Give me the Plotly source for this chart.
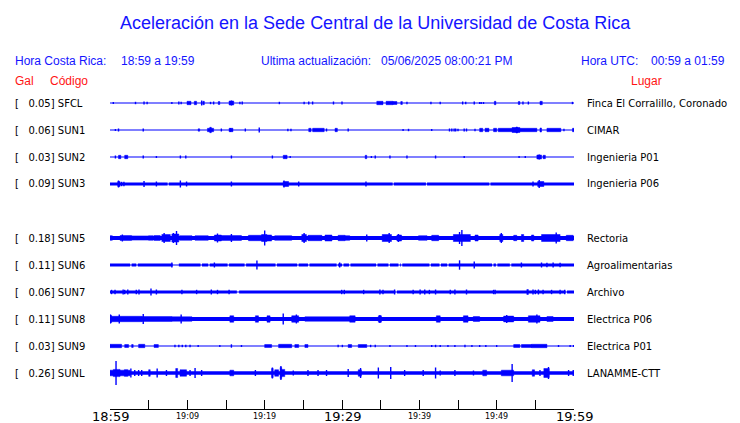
import plotly.graph_objects as go

# ---------------- data ----------------
codes = ["SFCL", "SUN1", "SUN2", "SUN3", "SUN5", "SUN6", "SUN7", "SUN8", "SUN9", "SUNL"]
gal = [0.05, 0.06, 0.03, 0.09, 0.18, 0.11, 0.06, 0.11, 0.03, 0.26]
places = ["Finca El Corralillo, Coronado", "CIMAR", "Ingenieria P01", "Ingenieria P06",
          "Rectoria", "Agroalimentarias", "Archivo", "Electrica P06", "Electrica P01", "LANAMME-CTT"]
# baseline half-amplitude of each trace (screen units)
base_amp = [0.6, 0.6, 0.6, 1.5, 2.0, 1.5, 1.5, 2.1, 0.6, 1.8]

tick_minutes = [0, 5, 10, 15, 20, 25, 30, 35, 40, 45, 50, 55, 60]
tick_labels = ["18:59", "", "19:09", "", "19:19", "", "19:29", "", "19:39", "", "19:49", "", "19:59"]
tick_major = [True, False, False, False, False, False, True, False, False, False, False, False, True]

# bursts: [start_min, end_min, half-amplitude]; spikes: [min, half-amplitude]; gaps: [start, end]
sfcl_bursts = [[9.96, 10.47, 1.7], [10.9, 11.2, 1.7], [12.0, 12.2, 1.7], [14.0, 14.2, 1.5], [15.4, 16.0, 2.0],
               [34.5, 35.3, 1.7], [35.7, 36.6, 1.7], [36.6, 37.1, 1.5], [37.6, 37.8, 1.5], [49.7, 49.9, 1.7],
               [52.8, 53.0, 1.5], [55.6, 55.9, 1.7]]
sfcl_spikes = [[0.43, 1], [3.3, 1.2], [4.4, 1.5], [4.8, 1.2], [8.0, 1], [8.9, 1.5], [9.2, 1.2], [11.85, 2.5],
               [13.0, 1.2], [13.4, 1.5], [15.7, 2.5], [16.8, 1.2], [17.1, 1.5], [21.9, 1.2], [25.1, 1.2],
               [25.7, 1.5], [26.2, 1.5], [28.9, 1.5], [30.0, 1.5], [38.4, 1.2], [41.5, 1.2], [42.7, 1.2],
               [45.6, 1.5], [46.0, 1.2], [47.1, 1.5], [47.8, 1], [48.0, 1], [48.3, 1], [53.4, 1.5],
               [54.1, 1.5], [59.8, 1.2]]
sfcl_gaps = []

sun1_bursts = [[11.4, 11.6, 1.2], [12.6, 13.4, 1.7], [12.9, 13.1, 2.7], [15.4, 15.9, 1.7], [25.7, 26.0, 1.7],
               [26.2, 27.7, 1.7], [29.1, 29.4, 1.7], [47.8, 48.2, 1.7], [48.5, 49.0, 1.7], [49.6, 50.0, 1.7],
               [50.2, 55.2, 1.7], [52.0, 53.0, 2.5], [52.5, 52.7, 3.0], [55.6, 55.8, 2.0], [56.5, 58.3, 1.7],
               [59.8, 60.0, 1.7]]
sun1_spikes = [[0.7, 1], [1.1, 1.5], [4.3, 1.5], [14.4, 1.5], [15.6, 2], [17.5, 1.5], [19.3, 2.5], [23.0, 1.2],
               [23.4, 1.2], [28.0, 1.5], [30.8, 1.5], [37.9, 1], [38.6, 1.2], [41.6, 1], [43.9, 1.5],
               [44.2, 1.5], [44.5, 1.5], [44.7, 1.5], [45.0, 1.2], [45.8, 1.5], [46.1, 1.5], [47.2, 1.2],
               [58.7, 1.2]]
sun1_gaps = []

sun2_bursts = [[1.1, 1.4, 1.7], [1.9, 2.3, 1.7], [22.4, 22.9, 1.7], [33.0, 33.2, 1.7], [55.2, 55.8, 2.0],
               [56.0, 56.3, 1.7]]
sun2_spikes = [[0.7, 1.5], [4.3, 1.5], [6.0, 1], [9.1, 1.5], [9.8, 1.5], [15.7, 1.5], [21.0, 1.5], [23.3, 1],
               [33.8, 1], [34.3, 1.5], [36.2, 1.5], [38.4, 1.5], [42.1, 1.5], [45.8, 1], [52.9, 1],
               [53.7, 1], [55.5, 2.5]]
sun2_gaps = []

sun3_bursts = [[1.0, 1.3, 2.5], [22.4, 23.1, 2.5], [55.3, 56.1, 2.5]]
sun3_spikes = [[1.1, 3.5], [1.5, 2.2], [1.8, 2.2], [4.4, 3], [6.0, 2.5], [9.1, 3.5], [9.9, 2.5], [15.7, 2.5],
               [22.5, 3.5], [24.4, 2.5], [33.1, 2.5], [54.7, 2.5], [55.5, 4]]
sun3_gaps = [[7.45, 7.6], [36.55, 36.7], [40.85, 41.0], [49.05, 49.2]]

sun5_bursts = [[0.0, 0.3, 2.3], [1.3, 2.8, 2.4], [2.8, 5.0, 2.1], [5.0, 5.6, 2.3], [5.7, 6.5, 2.4],
               [6.7, 7.8, 3.5], [8.0, 8.9, 4.0], [9.0, 10.6, 2.3], [11.0, 12.7, 2.3], [13.5, 14.4, 3.0],
               [14.4, 17.0, 2.4], [17.9, 19.6, 2.7], [19.6, 20.3, 3.5], [20.3, 20.9, 3.0], [21.3, 23.5, 2.3],
               [24.8, 25.4, 3.5], [25.6, 27.4, 2.7], [27.8, 28.7, 3.0], [29.5, 30.4, 2.7], [30.4, 31.0, 2.3],
               [35.2, 36.4, 3.5], [37.1, 37.7, 3.0], [39.9, 41.0, 2.3], [41.6, 42.5, 2.7], [44.4, 46.6, 3.5],
               [47.2, 47.6, 3.0], [50.4, 50.8, 3.5], [52.2, 52.6, 2.7], [53.2, 53.5, 3.5], [54.5, 54.8, 3.0],
               [55.8, 58.2, 3.5], [59.0, 59.9, 2.7]]
sun5_spikes = [[1.6, 3.5], [7.0, 5], [8.2, 5], [8.6, 7], [13.9, 4.5], [15.7, 4], [20.0, 7.5], [25.1, 5],
               [33.2, 3.5], [36.1, 5], [37.3, 4], [45.2, 6], [45.5, 8], [50.6, 5], [57.7, 5.5]]
sun5_gaps = []

sun6_bursts = []
sun6_spikes = [[8.0, 2.5], [13.5, 2.5], [19.0, 4.5], [29.7, 2.5], [45.2, 4.7], [47.1, 3.5], [53.2, 2.5],
               [55.8, 2.5], [56.5, 2.2], [57.3, 2.5], [58.2, 2.2]]
sun6_gaps = [[2.6, 2.8], [3.4, 3.6], [8.1, 8.9], [11.7, 11.9], [12.7, 12.9], [15.2, 15.4], [17.4, 17.6],
             [21.4, 21.6], [24.2, 24.4], [25.6, 25.8], [29.3, 29.5], [30.0, 30.2], [30.9, 31.1],
             [34.4, 34.6], [36.0, 36.2], [37.3, 37.5], [37.6, 37.8], [41.3, 41.5], [42.6, 42.8],
             [43.6, 43.8], [49.4, 49.6], [49.9, 50.1], [51.7, 51.9]]

sun7_bursts = [[53.9, 54.1, 2.5]]
sun7_spikes = [[0.2, 2.2], [0.65, 2.2], [1.7, 2.5], [1.9, 2.2], [2.3, 2.5], [3.4, 2.2], [3.75, 2.5],
               [5.3, 3.5], [6.0, 2.5], [9.3, 2.2], [11.2, 2.2], [13.1, 2.5], [13.9, 2.2], [15.4, 2.2],
               [29.96, 2.2], [30.3, 2.2], [32.8, 2.2], [34.9, 2.5], [35.3, 2.2], [36.8, 2.5], [39.2, 2.2],
               [40.1, 2.5], [40.7, 2.5], [41.3, 2.2], [42.1, 2.5], [44.0, 2.2], [44.6, 2.5], [46.1, 2.5],
               [49.6, 2.2], [49.8, 2.2], [54.7, 2.5], [55.0, 2.2], [55.4, 2.5], [56.0, 2.2], [57.1, 2.2],
               [58.2, 2.2], [58.8, 2.2]]
sun7_gaps = [[16.4, 16.7], [36.9, 37.1], [58.9, 59.1]]

sun8_bursts = [[0.0, 0.2, 3.7], [0.2, 4.1, 2.7], [4.1, 8.0, 2.4], [8.0, 10.6, 2.2], [15.5, 16.0, 3.2],
               [18.8, 19.2, 3.2], [20.3, 20.7, 3.2], [23.5, 24.4, 3.2], [25.2, 31.0, 2.2], [31.0, 31.7, 3.2],
               [34.7, 35.1, 3.2], [42.2, 42.7, 3.2], [45.7, 46.3, 3.2], [46.97, 47.8, 2.4], [50.9, 52.2, 2.9],
               [54.1, 55.6, 3.2], [56.5, 57.3, 2.4]]
sun8_spikes = [[0.05, 4.5], [1.2, 4.5], [4.3, 5], [9.2, 4.5], [22.4, 5.5], [24.1, 4.5], [34.9, 4],
               [51.3, 4], [55.2, 4.5]]
sun8_gaps = []

sun9_bursts = [[0.0, 1.5, 1.7], [1.9, 2.4, 1.5], [2.8, 3.0, 1.5], [3.7, 4.5, 1.7], [5.7, 6.25, 1.5],
               [20.0, 20.9, 1.5], [21.8, 23.5, 1.7], [23.9, 24.4, 1.5], [25.2, 25.6, 1.5], [30.8, 31.25, 1.5],
               [32.1, 33.2, 1.5], [52.2, 53.0, 1.5], [53.2, 54.5, 1.5], [54.5, 56.5, 1.7]]
sun9_spikes = [[8.4, 1.2], [8.9, 1.2], [9.35, 1.2], [9.8, 1.2], [10.35, 1.2], [11.4, 1], [14.2, 1],
               [15.7, 1.7], [17.0, 1], [29.5, 1.2], [30.05, 1.2], [33.7, 1.2], [34.3, 1.2], [36.2, 1],
               [38.4, 1], [39.5, 1], [41.6, 1], [42.1, 1.2], [42.7, 1], [43.7, 1], [44.6, 1], [45.9, 1.2],
               [46.8, 1], [47.8, 1], [48.6, 1], [50.0, 1], [58.0, 1], [59.5, 1], [59.95, 1]]
sun9_gaps = []

sunl_bursts = [[0.0, 0.43, 2.8], [0.43, 1.3, 3.6], [1.3, 2.6, 2.8], [1.85, 2.3, 3.3], [5.0, 5.2, 3.3],
               [8.5, 8.75, 4.5], [9.05, 9.9, 3.2], [15.5, 16.0, 2.8], [20.9, 21.1, 4.5], [21.3, 21.8, 3.2],
               [22.0, 22.2, 5.5], [22.2, 22.6, 3.6], [32.1, 32.5, 3.2], [48.2, 48.7, 2.8], [50.6, 52.2, 2.8],
               [54.6, 54.9, 3.2], [56.1, 56.8, 4.5]]
sunl_spikes = [[0.78, 12], [2.7, 4.5], [3.2, 3], [3.7, 3], [4.1, 3], [6.1, 4.5], [7.3, 3], [10.35, 3],
               [11.0, 5], [11.85, 3], [18.8, 3], [21.0, 5.5], [22.1, 7], [23.7, 2.5], [25.6, 3], [26.9, 3],
               [28.0, 3], [30.8, 4], [32.4, 5], [34.7, 5.5], [36.3, 6], [38.1, 3], [40.5, 3], [42.1, 5.5],
               [42.7, 2.5], [44.6, 3], [47.0, 2.5], [52.0, 9], [55.6, 3], [56.7, 6], [59.3, 3], [59.9, 3]]
sunl_gaps = []

all_bursts = [sfcl_bursts, sun1_bursts, sun2_bursts, sun3_bursts, sun5_bursts,
              sun6_bursts, sun7_bursts, sun8_bursts, sun9_bursts, sunl_bursts]
all_spikes = [sfcl_spikes, sun1_spikes, sun2_spikes, sun3_spikes, sun5_spikes,
              sun6_spikes, sun7_spikes, sun8_spikes, sun9_spikes, sunl_spikes]
all_gaps = [sfcl_gaps, sun1_gaps, sun2_gaps, sun3_gaps, sun5_gaps,
            sun6_gaps, sun7_gaps, sun8_gaps, sun9_gaps, sunl_gaps]

# ---------------- layout constants ----------------
W, H = 740, 423
X0, X1 = 110, 574          # pixel extent of time axis
AXIS_Y = 409               # pixel row of time axis line
ROW0_Y = 103               # pixel of first trace
ROW_H = 27                 # pixel spacing between traces
slots = [0, 1, 2, 3, 5, 6, 7, 8, 9, 10]   # SUN4 slot is empty
BLUE = "#0000ff"
TXT_BLUE = "#1414ff"
RED = "#ff1414"
PAD = 2                    # annotation inner padding to compensate

def amp(v):
    return v / ROW_H   # screen units -> row units

fig = go.Figure()

for i, code in enumerate(codes):
    r = slots[i]
    # baseline (split at gaps)
    segs = []
    start = 0.0
    for g0, g1 in sorted(all_gaps[i]):
        segs.append((start, g0))
        start = g1
    segs.append((start, 60.0))
    bx, by = [], []
    for a, b in segs:
        bx += [a, b, None]
        by += [r, r, None]
    fig.add_trace(go.Scatter(x=bx, y=by, mode="lines", hoverinfo="skip",
                             line=dict(color=BLUE, width=max(1.2, 2 * base_amp[i])), showlegend=False))
    if all_gaps[i]:
        fig.add_trace(go.Scatter(x=[0, 60], y=[r, r], mode="lines", hoverinfo="skip",
                                 line=dict(color=BLUE, width=1.2), showlegend=False))
    # bursts as filled boxes
    px, py = [], []
    for t0, t1, h in all_bursts[i]:
        px += [t0, t1, t1, t0, t0, None]
        py += [r - amp(h), r - amp(h), r + amp(h), r + amp(h), r - amp(h), None]
    if px:
        fig.add_trace(go.Scatter(x=px, y=py, mode="lines", fill="toself", fillcolor=BLUE,
                                 hoverinfo="skip", line=dict(color=BLUE, width=0.5), showlegend=False))
    # spikes as vertical strokes
    sx, sy = [], []
    for t, h in all_spikes[i]:
        sx += [t, t, None]
        sy += [r - amp(h), r + amp(h), None]
    fig.add_trace(go.Scatter(x=sx, y=sy, mode="lines", hoverinfo="skip",
                             line=dict(color=BLUE, width=1.4), showlegend=False))

annotations = []
LBL_FONT = dict(family="DejaVu Sans", size=10, color="black")
for i, code in enumerate(codes):
    yp = 1 - (ROW0_Y + slots[i] * ROW_H) / H
    label = "[\u00a0\u00a0\u00a0" + f"{gal[i]:.2f}] {code}"
    annotations.append(dict(x=(15 - PAD) / W, y=yp, xref="paper", yref="paper", text=label, showarrow=False,
                            xanchor="left", yanchor="middle", font=LBL_FONT))
    annotations.append(dict(x=(587 - PAD) / W, y=yp, xref="paper", yref="paper", text=places[i],
                            showarrow=False, xanchor="left", yanchor="middle", font=LBL_FONT))

# time-axis labels
for t, lab, big in zip(tick_minutes, tick_labels, tick_major):
    if not lab:
        continue
    annotations.append(dict(x=t, y=1 - 416 / H, xref="x", yref="paper", text=lab, showarrow=False,
                            xanchor="center", yanchor="middle",
                            font=dict(family="DejaVu Sans", size=13 if big else 8, color="black")))

HDR = dict(family="Liberation Sans", size=12, color=TXT_BLUE)
HDR_RED = dict(family="Liberation Sans", size=12, color=RED)
headers = [(15, 61, "Hora Costa Rica:", HDR), (120.7, 61, "18:59 a 19:59", HDR),
           (260.7, 61, "Ultima actualización:", HDR), (380.7, 61, "05/06/2025 08:00:21 PM", HDR),
           (580.7, 61, "Hora UTC:", HDR), (650.7, 61, "00:59 a 01:59", HDR),
           (15, 80.5, "Gal", HDR_RED), (50.3, 80.5, "Código", HDR_RED), (630.7, 80.5, "Lugar", HDR_RED)]
for xp, ypx, txt, f in headers:
    annotations.append(dict(x=(xp - PAD) / W, y=1 - ypx / H, xref="paper", yref="paper", text=txt,
                            showarrow=False, xanchor="left", yanchor="middle", font=f))
annotations.append(dict(x=375 / W, y=1 - 23 / H, xref="paper", yref="paper",
                        text="Aceleración en la Sede Central de la Universidad de Costa Rica", showarrow=False,
                        xanchor="center", yanchor="middle",
                        font=dict(family="Liberation Sans", size=18, color=TXT_BLUE)))

y_top = -ROW0_Y / ROW_H
y_bot = (AXIS_Y - ROW0_Y) / ROW_H

fig.update_layout(
    width=W, height=H, margin=dict(l=0, r=0, t=0, b=0),
    paper_bgcolor="white", plot_bgcolor="white", showlegend=False,
    xaxis=dict(domain=[X0 / W, X1 / W], range=[0, 60], tickvals=tick_minutes, showticklabels=False,
               ticks="inside", ticklen=9, tickcolor="black", tickwidth=1, showline=True, linecolor="black",
               linewidth=1.2, showgrid=False, zeroline=False, fixedrange=True),
    yaxis=dict(domain=[1 - AXIS_Y / H, 1], range=[y_bot, y_top], visible=False, showgrid=False,
               zeroline=False, fixedrange=True),
    annotations=annotations,
)

fig.write_html("out.html", config={"displayModeBar": False},
               post_script="document.body.style.margin='0';document.body.style.overflow='hidden';")
